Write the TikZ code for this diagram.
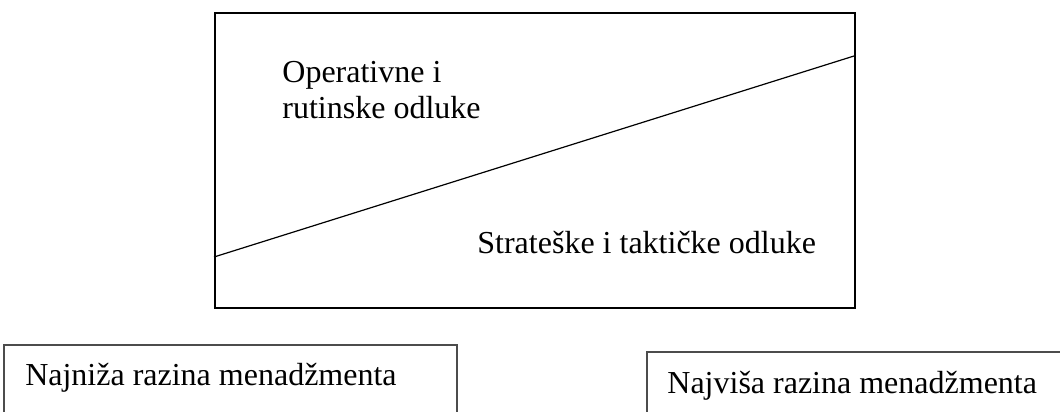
\documentclass[tikz,border=0pt]{standalone}
\usepackage{fontspec}
\setmainfont{Liberation Serif}
\usetikzlibrary{positioning}

\tikzset{
	odluka/.style={font=\fontsize{16}{18}\selectfont, inner sep=0pt, anchor=base west},
	razina/.style={draw=black!70, line width=0.75pt},
}

\begin{document}
\begin{tikzpicture}[x=0.5pt, y=-0.5pt]

		\useasboundingbox (0,0) rectangle (1060,412);
		\clip (0,0) rectangle (1060,412);

		% polje odluka
		\node[draw, line width=1.1pt, inner sep=0pt, minimum width=320pt, minimum height=147.5pt, anchor=north west] (polje) at (214,12) {};
		\coordinate (lijevo) at (214,257);
		\coordinate (desno) at (854,56);
		\draw[line width=0.6pt] (lijevo) -- (desno);

		\node[odluka] (operativne) at (282,82) {Operativne i};
		\node[odluka] (rutinske) at (282,118) {rutinske odluke};
		\node[odluka] (strateske) at (477,253) {Strateške i taktičke odluke};

		% razine menadzmenta
		\node[odluka, anchor=base east] (najniza) at (397,385) {Najniža razina menadžmenta};
		\node[odluka] (najvisa) at (667,393) {Najviša razina menadžmenta};
		\draw[razina] (4,430) |- (457,345) -- (457,430);
		\draw[razina] (647,430) |- (1080,352);

	\end{tikzpicture}
\end{document}
